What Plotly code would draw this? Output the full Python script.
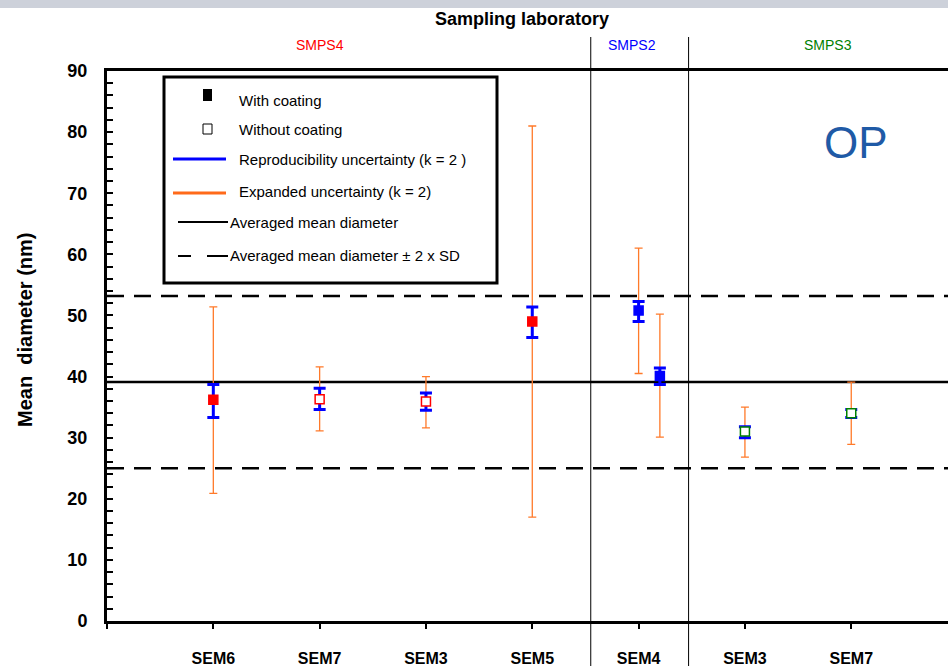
import plotly.graph_objects as go

# ---------------- data ----------------
tick_vals = [0, 1, 2, 3, 4, 5, 6, 7]
tick_text = ["", "SEM6", "SEM7", "SEM3", "SEM5", "SEM4", "SEM3", "SEM7"]

x_pos = [1, 2, 3, 4, 5, 5.2, 6, 7]
lab = ["SMPS4", "SMPS4", "SMPS4", "SMPS4", "SMPS2", "SMPS2", "SMPS3", "SMPS3"]
coated = [True, False, False, True, True, True, False, False]
mean_d = [36.2, 36.3, 35.9, 49.0, 50.8, 40.1, 31.0, 34.0]
repro_hi = [38.7, 38.1, 37.3, 51.4, 52.3, 41.4, 31.8, 34.6]
repro_lo = [33.3, 34.6, 34.5, 46.4, 49.0, 38.7, 30.0, 33.3]
exp_hi = [51.4, 41.6, 40.0, 81.0, 61.0, 50.2, 35.0, 39.1]
exp_lo = [20.9, 31.1, 31.6, 17.0, 40.5, 30.1, 26.8, 28.9]

avg_mean = 39.1
avg_upper = 53.2
avg_lower = 25.0

lab_names = ["SMPS4", "SMPS2", "SMPS3"]
lab_centers = [2.0, 4.94, 6.78]
lab_bounds = [4.55, 5.47]

lab_colors = {"SMPS4": "#ff0000", "SMPS2": "#0000ff", "SMPS3": "#008000"}
FONT = "Arial, Liberation Sans, sans-serif"

# --------------- geometry helpers (layout only) ---------------
L, T, B, W, H = 107, 71, 45, 948, 666
PW, PH = W - L, H - T - B


def px2x(px):
    return (px - L) / PW


def px2y(py):
    return (H - B - py) / PH


XMAX = 7.91

fig = go.Figure()

# reference lines
fig.add_trace(go.Scatter(x=[0, XMAX], y=[avg_mean, avg_mean], mode="lines",
                         line=dict(color="black", width=2.5), hoverinfo="skip", showlegend=False))
for yv in (avg_upper, avg_lower):
    fig.add_trace(go.Scatter(x=[0, XMAX], y=[yv, yv], mode="lines",
                             line=dict(color="black", width=2.5, dash="17px,10px"),
                             hoverinfo="skip", showlegend=False))

# expanded uncertainty (orange)
fig.add_trace(go.Scatter(
    x=x_pos, y=mean_d, mode="markers", marker=dict(size=1, opacity=0),
    error_y=dict(type="data", symmetric=False,
                 array=[h - m for h, m in zip(exp_hi, mean_d)],
                 arrayminus=[m - l for m, l in zip(mean_d, exp_lo)],
                 color="#ff7a2a", thickness=1.3, width=4),
    showlegend=False, hoverinfo="skip"))

# reproducibility uncertainty (blue)
fig.add_trace(go.Scatter(
    x=x_pos, y=mean_d, mode="markers", marker=dict(size=1, opacity=0),
    error_y=dict(type="data", symmetric=False,
                 array=[h - m for h, m in zip(repro_hi, mean_d)],
                 arrayminus=[m - l for m, l in zip(mean_d, repro_lo)],
                 color="#0000ff", thickness=3, width=6),
    showlegend=False, hoverinfo="skip"))

# markers
for xi, yi, lb, c in zip(x_pos, mean_d, lab, coated):
    col = lab_colors[lb]
    fig.add_trace(go.Scatter(
        x=[xi], y=[yi], mode="markers",
        marker=dict(symbol="square", size=9,
                    color=col if c else "white",
                    line=dict(color=col, width=1.5)),
        showlegend=False))

shapes = []
annotations = []


def note(x, y, text, size, color="black", xref="paper", xanchor="center", angle=0):
    annotations.append(dict(x=x, y=y, xref=xref, yref="paper", text=text,
                            showarrow=False, xanchor=xanchor, yanchor="middle",
                            textangle=angle,
                            font=dict(family=FONT, size=size, color=color)))


# top decorative band
shapes.append(dict(type="rect", xref="paper", yref="paper",
                   x0=px2x(0), x1=px2x(W), y0=px2y(8), y1=px2y(0),
                   fillcolor="#cdd1da", line=dict(width=0), layer="below"))

# lab separators
for xb in lab_bounds:
    shapes.append(dict(type="line", xref="x", yref="paper", x0=xb, x1=xb,
                       y0=px2y(666), y1=px2y(37), line=dict(color="black", width=1)))

# lab labels
for name, xc in zip(lab_names, lab_centers):
    note(xc, px2y(45), name, 14, lab_colors[name], xref="x")

note(px2x(522), px2y(19), "<b>Sampling laboratory</b>", 18)
note(px2x(25), px2y(330), "<b>Mean&nbsp;&nbsp;diameter (nm)</b>", 20, angle=-90)
note(px2x(856), px2y(143), "OP", 44, "#1f5aa6")

# legend box
shapes.append(dict(type="rect", xref="paper", yref="paper",
                   x0=px2x(164), x1=px2x(497), y0=px2y(283), y1=px2y(77),
                   fillcolor="white", line=dict(color="black", width=3)))
# legend symbols
shapes.append(dict(type="rect", xref="paper", yref="paper",
                   x0=px2x(203), x1=px2x(212), y0=px2y(101), y1=px2y(89),
                   fillcolor="black", line=dict(color="black", width=0)))
shapes.append(dict(type="rect", xref="paper", yref="paper",
                   x0=px2x(203), x1=px2x(212), y0=px2y(134), y1=px2y(124),
                   fillcolor="white", line=dict(color="black", width=1)))
shapes.append(dict(type="line", xref="paper", yref="paper",
                   x0=px2x(173), x1=px2x(226), y0=px2y(159), y1=px2y(159),
                   line=dict(color="#0000ff", width=3)))
shapes.append(dict(type="line", xref="paper", yref="paper",
                   x0=px2x(173), x1=px2x(226), y0=px2y(193), y1=px2y(193),
                   line=dict(color="#ff6a1a", width=3)))
shapes.append(dict(type="line", xref="paper", yref="paper",
                   x0=px2x(178), x1=px2x(228), y0=px2y(222), y1=px2y(222),
                   line=dict(color="black", width=2)))
shapes.append(dict(type="line", xref="paper", yref="paper",
                   x0=px2x(178), x1=px2x(191), y0=px2y(256), y1=px2y(256),
                   line=dict(color="black", width=2)))
shapes.append(dict(type="line", xref="paper", yref="paper",
                   x0=px2x(207), x1=px2x(228), y0=px2y(256), y1=px2y(256),
                   line=dict(color="black", width=2)))

leg_items = [
    ("With coating", 237, 100),
    ("Without coating", 237, 129),
    ("Reproducibility uncertainty (k = 2 )", 237, 159),
    ("Expanded uncertainty (k = 2)", 237, 191),
    ("Averaged mean diameter", 228, 222),
    ("Averaged mean diameter \u00b1 2 x SD", 228, 256),
]
for txt, lx, ly in leg_items:
    note(px2x(lx), px2y(ly), txt, 15, xanchor="left")

fig.update_layout(
    width=W, height=H,
    margin=dict(l=L, r=0, t=T, b=B),
    paper_bgcolor="white", plot_bgcolor="white",
    showlegend=False,
    shapes=shapes, annotations=annotations,
    xaxis=dict(range=[0, XMAX], tickvals=tick_vals, ticktext=tick_text,
               showgrid=False, zeroline=False, showline=True, linecolor="black",
               linewidth=3, mirror=True, ticks="outside", ticklen=5, tickwidth=2,
               tickcolor="black", ticklabelstandoff=16,
               tickfont=dict(family=FONT, size=16, color="black", weight="bold")),
    yaxis=dict(range=[0, 90], tickvals=list(range(0, 91, 10)),
               showgrid=False, zeroline=False, showline=True, linecolor="black",
               linewidth=3, ticks="inside", ticklen=6, tickwidth=2, tickcolor="black",
               minor=dict(dtick=2, ticks="inside", ticklen=6, tickwidth=1.5, tickcolor="black"),
               ticklabelstandoff=13,
               tickfont=dict(family=FONT, size=18, color="black", weight="bold")),
)

fig.write_html("out.html")
